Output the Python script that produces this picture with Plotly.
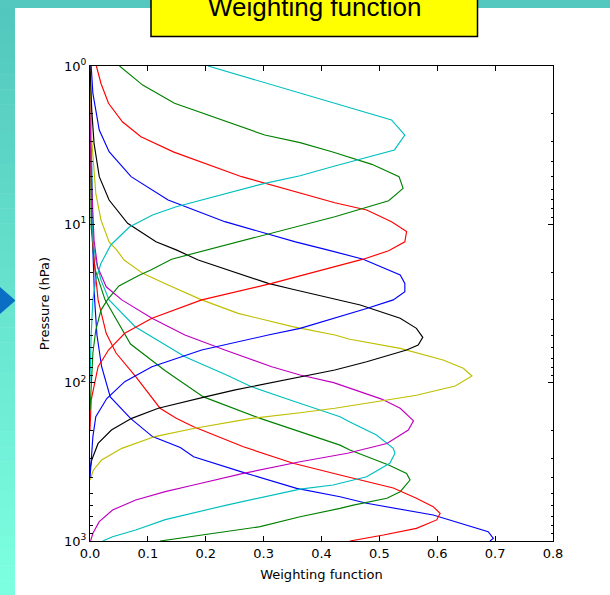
import plotly.graph_objects as go

# ---------------- data (pressure in hPa, weighting values) ----------------
P_C1 = [1.0, 1.49, 1.72, 2.19, 2.73, 3.39, 4.28, 4.93, 5.51, 7.74, 8.73, 10.4, 13.5, 17.6, 22.5, 30, 50, 100]
W_C1 = [0.204, 0.363, 0.423, 0.521, 0.544, 0.526, 0.423, 0.363, 0.302, 0.149, 0.108, 0.068, 0.036, 0.019, 0.010, 0.005, 0.002, 0.0]

P_G1 = [1.0, 1.32, 1.72, 2.73, 3.05, 3.48, 4.18, 5.0, 5.93, 7.09, 8.95, 10.2, 12.6, 14.5, 16.6, 19.4, 21.0, 24.5, 30, 34.8, 46.5, 65, 150]
W_G1 = [0.051, 0.091, 0.146, 0.302, 0.363, 0.418, 0.487, 0.534, 0.541, 0.516, 0.423, 0.363, 0.268, 0.202, 0.141, 0.105, 0.085, 0.05, 0.03, 0.019, 0.010, 0.005, 0.0]

P_R1 = [1.0, 1.29, 1.72, 2.25, 2.8, 3.5, 5.0, 6.3, 7.3, 8.12, 9.62, 11.1, 12.9, 14.7, 16.6, 18.5, 21.2, 23.6, 30, 39.2, 48.8, 62.2, 79.3, 111, 129, 200]
W_R1 = [0.011, 0.019, 0.032, 0.056, 0.088, 0.145, 0.262, 0.363, 0.423, 0.478, 0.521, 0.547, 0.544, 0.516, 0.472, 0.423, 0.363, 0.314, 0.193, 0.107, 0.060, 0.032, 0.014, 0.006, 0.002, 0.0]

P_B1 = [1.0, 1.49, 2.54, 3.48, 5.0, 7.02, 9.62, 12.9, 14.5, 16.6, 20.9, 23.6, 26.6, 30, 34, 39.2, 45.4, 50, 62.2, 79.3, 98.6, 126, 164, 219, 308, 400]
W_B1 = [0.002, 0.005, 0.016, 0.033, 0.071, 0.135, 0.233, 0.355, 0.41, 0.472, 0.536, 0.544, 0.544, 0.524, 0.478, 0.423, 0.363, 0.308, 0.193, 0.107, 0.060, 0.029, 0.010, 0.005, 0.002, 0.0]

P_K = [1.0, 1.9, 3.08, 5.0, 7.02, 9.85, 12.9, 14.5, 16.8, 23.6, 25.7, 29.3, 32.3, 39.2, 45.4, 51.7, 57.8, 62.2, 73.8, 83.2, 91.7, 106, 111, 123, 145, 168, 199, 242, 308, 350]
W_K = [0.0, 0.003, 0.007, 0.016, 0.033, 0.065, 0.114, 0.149, 0.187, 0.308, 0.35, 0.42, 0.467, 0.536, 0.564, 0.575, 0.567, 0.547, 0.478, 0.423, 0.363, 0.279, 0.251, 0.199, 0.118, 0.072, 0.037, 0.014, 0.003, 0.0]

P_Y = [1.0, 2.94, 6.37, 9.4, 12.9, 14.5, 16.8, 20.4, 24.2, 30, 36.5, 44.3, 50, 53.2, 60.7, 67.9, 71.9, 81.1, 90.8, 105, 120, 130, 145, 155, 168, 194, 219, 260, 308, 356, 412]
W_Y = [0.0, 0.003, 0.010, 0.019, 0.033, 0.046, 0.059, 0.091, 0.135, 0.193, 0.256, 0.350, 0.423, 0.449, 0.536, 0.582, 0.610, 0.645, 0.660, 0.631, 0.564, 0.505, 0.423, 0.363, 0.279, 0.181, 0.112, 0.055, 0.020, 0.006, 0.0]

P_M = [1.0, 4.76, 12.6, 18.5, 24.8, 30, 39.2, 50, 62.2, 79.3, 89.5, 100, 127, 145, 174, 199, 242, 279, 316, 374, 443, 488, 551, 637, 755, 894, 1000]
W_M = [0.0, 0.002, 0.007, 0.013, 0.028, 0.055, 0.107, 0.164, 0.233, 0.314, 0.363, 0.421, 0.504, 0.536, 0.559, 0.550, 0.513, 0.445, 0.363, 0.265, 0.179, 0.13, 0.079, 0.039, 0.016, 0.005, 0.001]

P_C2 = [1.0, 12.6, 16.8, 22.5, 30, 44.3, 55.1, 68.6, 89.5, 106, 129, 135, 164, 177, 214, 260, 279, 323, 393, 443, 470, 593, 733, 853, 940, 1000]
W_C2 = [0.0, 0.005, 0.010, 0.019, 0.033, 0.078, 0.121, 0.164, 0.236, 0.279, 0.347, 0.363, 0.432, 0.449, 0.495, 0.524, 0.527, 0.518, 0.478, 0.420, 0.363, 0.236, 0.13, 0.079, 0.039, 0.022]

P_G2 = [1.0, 10.4, 16.8, 19.4, 30, 42.2, 57, 84, 123, 168, 204, 248, 266, 331, 374, 412, 488, 537, 593, 622, 703, 812, 1000]
W_G2 = [0.0, 0.002, 0.007, 0.009, 0.026, 0.049, 0.07, 0.13, 0.196, 0.294, 0.363, 0.432, 0.449, 0.516, 0.547, 0.553, 0.536, 0.513, 0.455, 0.432, 0.363, 0.294, 0.121]

P_R2 = [1.0, 10, 16.8, 30, 48.8, 65, 91.7, 145, 168, 190, 254, 323, 383, 463, 537, 607, 669, 736, 832, 917, 1000]
W_R2 = [0.0, 0.003, 0.007, 0.014, 0.028, 0.045, 0.079, 0.121, 0.149, 0.179, 0.265, 0.351, 0.432, 0.524, 0.564, 0.593, 0.605, 0.599, 0.564, 0.507, 0.449]

P_B2 = [1.0, 14.5, 30, 50, 79, 111, 123, 168, 219, 257, 294, 370, 465, 525, 578, 685, 812, 873, 962, 1000]
W_B2 = [0.0, 0.005, 0.008, 0.012, 0.02, 0.032, 0.035, 0.07, 0.108, 0.156, 0.179, 0.266, 0.357, 0.432, 0.478, 0.593, 0.662, 0.688, 0.697, 0.691]

Y_TICKS = [1, 10, 100, 1000]
Y_TICK_TEXT = ["10<sup>0</sup>", "10<sup>1</sup>", "10<sup>2</sup>", "10<sup>3</sup>"]
Y_MINOR = [m * d for d in (1, 10, 100) for m in range(2, 10)]
X_TICKS = [0.0, 0.1, 0.2, 0.3, 0.4, 0.5, 0.6, 0.7, 0.8]

TITLE = "Weighting function"
X_LABEL = "Weighting function"
Y_LABEL = "Pressure (hPa)"

SERIES = [
    (P_B2, W_B2, "#0000FF"),
    (P_G2, W_G2, "#008000"),
    (P_R2, W_R2, "#FF0000"),
    (P_C2, W_C2, "#00BFBF"),
    (P_M, W_M, "#BF00BF"),
    (P_Y, W_Y, "#BFBF00"),
    (P_K, W_K, "#000000"),
    (P_B1, W_B1, "#0000FF"),
    (P_R1, W_R1, "#FF0000"),
    (P_G1, W_G1, "#008000"),
    (P_C1, W_C1, "#00BFBF"),
]

# ---------------- figure ----------------
W_FIG, H_FIG = 610, 595
L, R, T, B = 90, 57, 66, 54
PW, PH = W_FIG - L - R, H_FIG - T - B


def px(X):
    return (X - L) / PW


def py(Y):
    return (H_FIG - B - Y) / PH


fig = go.Figure()
for p, w, c in SERIES:
    fig.add_trace(go.Scatter(x=w, y=p, mode="lines", line=dict(color=c, width=1.15),
                             hoverinfo="skip", showlegend=False))

font_ax = dict(family="DejaVu Sans", size=13, color="black")

fig.update_xaxes(range=[0, 0.8], tickvals=X_TICKS, tickformat=".1f",
                 showline=True, linecolor="black", linewidth=1, mirror="allticks",
                 ticks="inside", ticklen=5, tickcolor="black", tickwidth=1,
                 showgrid=False, zeroline=False, tickfont=font_ax,
                 title=dict(text=X_LABEL, font=font_ax, standoff=10))
fig.update_yaxes(type="log", range=[3, 0], tickvals=Y_TICKS, ticktext=Y_TICK_TEXT,
                 showline=True, linecolor="black", linewidth=1, mirror="allticks",
                 ticks="inside", ticklen=5, tickcolor="black", tickwidth=1,
                 minor=dict(tickvals=Y_MINOR, ticks="inside", ticklen=2.5, tickcolor="black"),
                 showgrid=False, zeroline=False, tickfont=font_ax,
                 title=dict(text=Y_LABEL, font=font_ax, standoff=11))

shapes = []
# left gradient strip
c_top = (82, 199, 189)
c_bot = (124, 255, 224)
N = 40
for i in range(N):
    f = i / (N - 1)
    col = "rgb(%d,%d,%d)" % tuple(round(a + (b - a) * f) for a, b in zip(c_top, c_bot))
    y0 = i * H_FIG / N
    y1 = (i + 1) * H_FIG / N + 0.5
    shapes.append(dict(type="rect", xref="paper", yref="paper", x0=px(0), x1=px(15),
                       y0=py(y1), y1=py(y0), fillcolor=col, line=dict(width=0), layer="above"))
# top band
shapes.append(dict(type="rect", xref="paper", yref="paper", x0=px(0), x1=px(W_FIG),
                   y0=py(8), y1=py(0), fillcolor="rgb(84,200,190)", line=dict(width=0), layer="above"))
# arrow
shapes.append(dict(type="path", xref="paper", yref="paper",
                   path="M %f %f L %f %f L %f %f Z" % (px(0), py(287), px(15.5), py(300.5), px(0), py(314)),
                   fillcolor="#0A6FC4", line=dict(width=0), layer="above"))
# title box
shapes.append(dict(type="rect", xref="paper", yref="paper", x0=px(151), x1=px(477.5),
                   y0=py(36.5), y1=py(-5), fillcolor="#FFFF00", line=dict(color="black", width=1.5),
                   layer="above"))

fig.update_layout(
    width=W_FIG, height=H_FIG, margin=dict(l=L, r=R, t=T, b=B),
    paper_bgcolor="white", plot_bgcolor="white", showlegend=False,
    shapes=shapes,
    annotations=[dict(text=TITLE, xref="paper", yref="paper", x=px(314), y=py(6.5),
                      xanchor="center", yanchor="middle", showarrow=False,
                      font=dict(family="Liberation Sans, Arial", size=26, color="black"))],
)

fig.write_html("out.html", config={"displayModeBar": False},
               post_script="document.body.style.margin='0';")
